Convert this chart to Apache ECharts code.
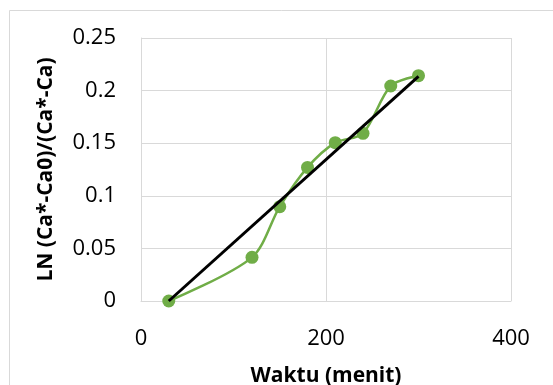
<!DOCTYPE html>
<html>
<head>
<meta charset="utf-8">
<script src="https://cdn.jsdelivr.net/npm/echarts@6/dist/echarts.min.js"></script>
<style>html,body{margin:0;padding:0;background:#fff}#c{width:553px;height:385px}</style>
</head>
<body>
<div id="c"></div>
<script>
const waktu = [30, 120, 150, 180, 210, 240, 270, 300];
const lnValues = [0, 0.0415, 0.0897, 0.127, 0.1505, 0.1594, 0.2044, 0.2142];
const trendX = [30, 300];
const trendY = [0, 0.2135];
const xTitle = 'Waktu (menit)';
const yTitle = 'LN (Ca*-Ca0)/(Ca*-Ca)';

const chart = echarts.init(document.getElementById('c'));
const font = 'Open Sans, Noto Sans, sans-serif';
chart.setOption({
  animation: false,
  backgroundColor: '#fff',
  graphic: [{
    type: 'rect', left: 7, top: 8,
    shape: { width: 600, height: 420 },
    style: { fill: 'none', stroke: '#d9d9d9', lineWidth: 1 },
    silent: true
  }],
  grid: { left: 141, right: 42, top: 38, bottom: 84, outerBoundsMode: 'none', containLabel: false },
  xAxis: {
    type: 'value', min: 0, max: 400, interval: 200,
    name: xTitle, nameLocation: 'middle', nameGap: 65,
    nameTextStyle: { fontFamily: font, fontWeight: 'bold', fontSize: 21, color: '#000' },
    axisLine: { show: true, lineStyle: { color: '#d9d9d9' } },
    axisTick: { show: false },
    axisLabel: { fontFamily: font, fontSize: 22, color: '#000', margin: 27 },
    splitLine: { show: true, lineStyle: { color: '#d9d9d9', width: 1 } }
  },
  yAxis: {
    type: 'value', min: 0, max: 0.25, interval: 0.05,
    name: yTitle, nameLocation: 'middle', nameGap: 84,
    nameTextStyle: { fontFamily: font, fontWeight: 'bold', fontSize: 21, color: '#000' },
    axisLine: { show: true, lineStyle: { color: '#d9d9d9' } },
    axisTick: { show: false },
    axisLabel: { fontFamily: font, fontSize: 22, color: '#000', margin: 25, padding: [7, 0, 0, 0] },
    splitLine: { show: true, lineStyle: { color: '#d9d9d9', width: 1 } }
  },
  series: [{
    type: 'line',
    data: waktu.map((x, i) => [x, lnValues[i]]),
    smooth: 0.3,
    symbol: 'circle', symbolSize: 13,
    lineStyle: { color: '#70ad47', width: 2.5 },
    itemStyle: { color: '#70ad47' },
    z: 2
  }, {
    type: 'line',
    data: trendX.map((x, i) => [x, trendY[i]]),
    symbol: 'none',
    lineStyle: { color: '#000', width: 3 },
    z: 3
  }]
});
</script>
</body>
</html>
